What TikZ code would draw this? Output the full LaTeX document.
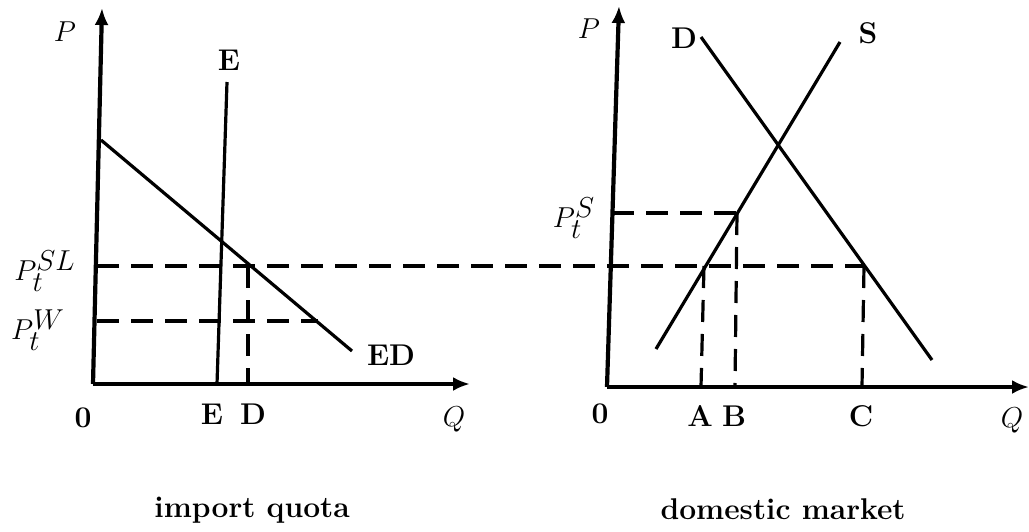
\documentclass[tikz,border=0pt]{standalone}
\usetikzlibrary{arrows.meta}
\newcommand{\mylbl}[3]{$#1_{\textstyle #2}^{\textstyle #3}$}
\begin{document}
\begin{tikzpicture}[x=0.5pt,y=-0.5pt,
  axis/.style={line width=2.1pt,-{Latex[length=8.5pt,width=7pt]}},
  curve/.style={line width=1.6pt},
  guide/.style={line width=1.6pt,dash pattern=on 11pt off 6pt},
  lab/.style={font=\fontsize{15}{18}\selectfont\bfseries,inner sep=1pt},
  mlab/.style={font=\fontsize{15}{18}\selectfont,inner sep=1pt}]
\useasboundingbox (0,0) rectangle (1029,531);
% left panel
\coordinate (O1) at (93,384);
\coordinate (Y1) at (102,8);
\coordinate (X1) at (470,384);
\draw[axis] (O1) -- (Y1);
\draw[axis] (O1) -- (X1);
\coordinate (ED1) at (101,140);
\coordinate (ED2) at (352,351);
\draw[curve] (ED1) -- (ED2);
\coordinate (Etop) at (227,82);
\coordinate (Ebot) at (217,384);
\draw[curve] (Etop) -- (Ebot);
\coordinate (SLl) at (97,266);
\coordinate (Dpt) at (248,266);
\coordinate (Dbot) at (248,384);
\coordinate (Wl) at (97,321);
\coordinate (Wr) at (318,321);
\draw[guide] (Wl) -- (Wr);
\draw[guide] (Dpt) -- (Dbot);
% right panel
\coordinate (O2) at (607,387);
\coordinate (Y2) at (619,6);
\coordinate (X2) at (1029,387);
\draw[axis] (O2) -- (Y2);
\draw[axis] (O2) -- (X2);
\coordinate (D1) at (701,37);
\coordinate (D2) at (932,360);
\draw[curve] (D1) -- (D2);
\coordinate (S1) at (656,349);
\coordinate (S2) at (840,42);
\draw[curve] (S1) -- (S2);
\coordinate (SLr) at (864,266);
\draw[guide] (SLl) -- (SLr);
\coordinate (PSl) at (612,213);
\coordinate (Bpt) at (737,213);
\draw[guide] (PSl) -- (Bpt);
\coordinate (Apt) at (704,266);
\coordinate (Abot) at (701,387);
\coordinate (Bbot) at (735,387);
\coordinate (Cbot) at (862,387);
\draw[guide] (Apt) -- (Abot);
\draw[guide] (Bpt) -- (Bbot);
\draw[guide] (SLr) -- (Cbot);
% labels left
\node[mlab] (P1) at (65,32) {$P$};
\node[lab] (Elab) at (229,60) {E};
\node[mlab] (PSL) at (45,271) {\mylbl{P}{t}{SL}};
\node[mlab] (PW) at (38,330) {\mylbl{P}{t}{W}};
\node[lab] (EDlab) at (391,355) {ED};
\node[lab] (Z1) at (83,418) {0};
\node[lab] (Eax) at (212,414) {E};
\node[lab] (Dax) at (253,414) {D};
\node[mlab] (Q1) at (454,419) {$Q$};
\node[lab,anchor=base west] (imp) at (152,517) {import quota};
% labels right
\node[mlab] (P2) at (589,29) {$P$};
\node[lab] (Dlab) at (684,38) {D};
\node[lab] (Slab) at (868,33) {S};
\node[mlab] (PS) at (574,218) {\mylbl{P}{t}{S}};
\node[lab] (Z2) at (600,414) {0};
\node[lab] (Aax) at (700,416) {A};
\node[lab] (Bax) at (734,416) {B};
\node[lab] (Cax) at (861,416) {C};
\node[mlab] (Q2) at (1012,420) {$Q$};
\node[lab,anchor=base east] (dom) at (908,519) {domestic market};
\end{tikzpicture}
\end{document}
